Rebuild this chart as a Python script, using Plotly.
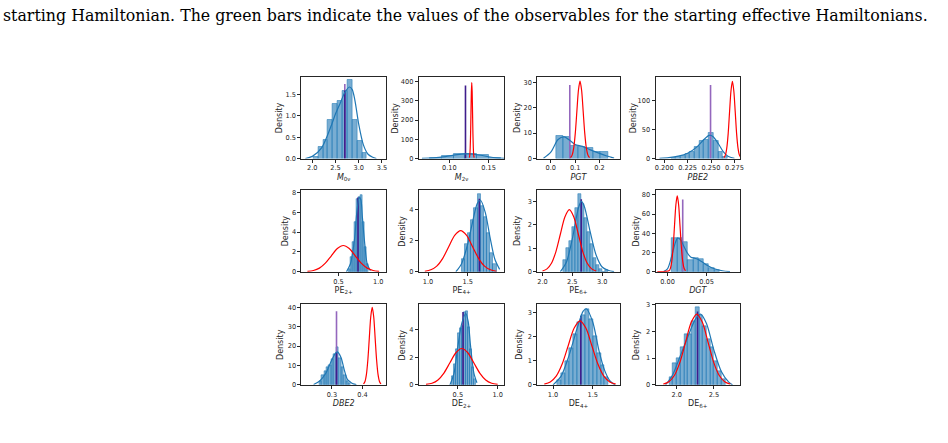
import plotly.graph_objects as go

# ---------------- DATA ----------------
caption = ("starting Hamiltonian. The green bars indicate the values of the observables "
           "for the starting effective Hamiltonians.")

x_titles = ["<i>M</i><sub>0ν</sub>", "<i>M</i><sub>2ν</sub>", "<i>PGT</i>", "<i>PBE2</i>",
            "PE<sub>2+</sub>", "PE<sub>4+</sub>", "PE<sub>6+</sub>", "<i>DGT</i>",
            "<i>DBE2</i>", "DE<sub>2+</sub>", "DE<sub>4+</sub>", "DE<sub>6+</sub>"]
y_title = "Density"

x_tickvals = [[2.0, 2.5, 3.0, 3.5], [0.10, 0.15], [0.0, 0.1, 0.2], [0.200, 0.225, 0.250, 0.275],
              [0.5, 1.0], [1.0, 1.5], [2.0, 2.5, 3.0], [0.00, 0.05],
              [0.3, 0.4], [0.5, 1.0], [1.0, 1.5], [2.0, 2.5]]
x_ticktext = [["2.0", "2.5", "3.0", "3.5"], ["0.10", "0.15"], ["0.0", "0.1", "0.2"],
              ["0.200", "0.225", "0.250", "0.275"], ["0.5", "1.0"], ["1.0", "1.5"],
              ["2.0", "2.5", "3.0"], ["0.00", "0.05"], ["0.3", "0.4"], ["0.5", "1.0"],
              ["1.0", "1.5"], ["2.0", "2.5"]]
y_tickvals = [[0, 0.5, 1.0, 1.5], [0, 100, 200, 300, 400], [0, 10, 20, 30], [0, 50, 100],
              [0, 2, 4, 6, 8], [0, 2, 4], [0, 1, 2, 3], [0, 20, 40, 60, 80],
              [0, 10, 20, 30, 40], [0, 2, 4], [0, 1, 2, 3], [0, 1, 2, 3]]
y_ticktext = [["0.0", "0.5", "1.0", "1.5"], ["0", "100", "200", "300", "400"],
              ["0", "10", "20", "30"], ["0", "50", "100"], ["0", "2", "4", "6", "8"],
              ["0", "2", "4"], ["0", "1", "2", "3"], ["0", "20", "40", "60", "80"],
              ["0", "10", "20", "30", "40"], ["0", "2", "4"], ["0", "1", "2", "3"],
              ["0", "1", "2", "3"]]

# histogram: first bin left edge, bin width, bar heights
hist_start = [2.02, 0.075, 0.02, 0.2075, 0.625, 1.42, 2.35, 0.0055, 0.258, 0.42, 1.05, 1.9]
hist_width = [0.105, 0.015, 0.0305, 0.005, 0.025, 0.04, 0.05, 0.0068, 0.008, 0.025, 0.05, 0.05]
m0v_hist = [0.05, 0.27, 0.45, 0.92, 1.28, 1.35, 1.6, 1.85, 0.92, 0.42, 0.13]
m2v_hist = [3, 12, 22, 25, 18, 5]
pgt_hist = [9.0, 8.6, 5.0, 4.8, 4.3, 2.6, 2.5]
pbe2_hist = [1.5, 3, 5, 8, 12, 20, 30, 32, 45, 30, 12, 3]
pe2_hist = [0.3, 1.5, 3.0, 5.0, 7.4, 7.6, 7.8, 5.0, 2.5, 0.8]
pe4_hist = [0.8, 1.8, 2.5, 3.3, 4.1, 5.0, 4.2, 3.5, 2.5, 1.2, 0.5]
pe6_hist = [0.5, 1.0, 1.3, 1.9, 2.7, 3.3, 2.9, 2.3, 1.7, 1.2, 0.6, 0.3, 0.1, 0.0, 0.08]
dgt_hist = [35, 35, 31, 12.5, 14, 13, 8, 4, 1.5]
dbe2_hist = [2, 5, 7, 9, 10, 13.5, 16, 19.5, 14, 9, 5, 2, 1]
de2_hist = [0.6, 1.5, 2.6, 3.8, 4.1, 4.3, 5.3, 5.4, 4.2, 2.6, 1.3, 0.4]
de4_hist = [0.2, 0.5, 1.0, 1.5, 2.1, 2.6, 2.9, 3.15, 2.7, 2.0, 1.3, 0.8, 0.3]
de6_hist = [0.3, 0.8, 1.0, 1.4, 1.9, 1.9, 2.4, 2.9, 2.6, 2.2, 1.7, 1.4, 0.9, 0.5, 0.2]

# KDE curves
m0v_kde_x = [1.85, 2.0, 2.2, 2.4, 2.5, 2.6, 2.7, 2.8, 2.86, 2.92, 3.0, 3.1, 3.2, 3.3, 3.38]
m0v_kde_y = [0.0, 0.05, 0.25, 0.75, 1.05, 1.3, 1.55, 1.68, 1.62, 1.35, 0.8, 0.32, 0.1, 0.03, 0.0]
m2v_kde_x = [0.065, 0.08, 0.095, 0.11, 0.12, 0.13, 0.14, 0.15, 0.16, 0.17]
m2v_kde_y = [0.5, 3, 10, 20, 24, 23, 17, 9, 3, 0.5]
pgt_kde_x = [-0.03, 0.0, 0.03, 0.055, 0.08, 0.1, 0.13, 0.16, 0.2, 0.23, 0.26]
pgt_kde_y = [0.1, 2.5, 7.5, 8.5, 7.0, 5.5, 4.8, 3.5, 2.0, 1.0, 0.2]
pbe2_kde_x = [0.195, 0.205, 0.215, 0.225, 0.235, 0.242, 0.248, 0.252, 0.258, 0.263, 0.268, 0.275]
pbe2_kde_y = [0.2, 1.5, 4, 9, 20, 32, 40, 38, 25, 12, 4, 0.5]
pe2_kde_x = [0.6, 0.65, 0.7, 0.73, 0.76, 0.78, 0.8, 0.83, 0.86, 0.9]
pe2_kde_y = [0.0, 0.8, 3.2, 6.0, 7.5, 7.3, 5.5, 2.8, 0.8, 0.1]
pe4_kde_x = [1.35, 1.42, 1.5, 1.56, 1.62, 1.66, 1.72, 1.78, 1.84, 1.9]
pe4_kde_y = [0.0, 0.5, 1.8, 3.2, 4.4, 4.6, 3.8, 2.2, 0.8, 0.15]
pe6_kde_x = [2.3, 2.4, 2.5, 2.6, 2.65, 2.7, 2.8, 2.9, 3.0, 3.1, 3.2]
pe6_kde_y = [0.0, 0.4, 1.4, 2.7, 3.0, 2.8, 1.7, 0.7, 0.2, 0.06, 0.0]
dgt_kde_x = [-0.005, 0.0, 0.005, 0.01, 0.013, 0.017, 0.02, 0.025, 0.03, 0.035, 0.04, 0.05, 0.06, 0.07, 0.08]
dgt_kde_y = [0.2, 3, 15, 30, 35, 33, 28, 20, 15, 14, 12.5, 7, 3, 1, 0.1]
dbe2_kde_x = [0.24, 0.26, 0.28, 0.29, 0.3, 0.31, 0.318, 0.33, 0.34, 0.35, 0.36, 0.37, 0.38]
dbe2_kde_y = [0.2, 2, 6, 9.5, 13, 16, 17, 14, 8, 3, 1.5, 0.5, 0.1]
de2_kde_x = [0.4, 0.45, 0.5, 0.55, 0.6, 0.63, 0.66, 0.7, 0.74]
de2_kde_y = [0.0, 0.8, 2.8, 4.5, 5.2, 4.6, 2.8, 0.9, 0.15]
de4_kde_x = [1.0, 1.1, 1.2, 1.3, 1.38, 1.42, 1.5, 1.58, 1.65, 1.72, 1.78]
de4_kde_y = [0.0, 0.35, 1.2, 2.3, 3.05, 3.15, 2.6, 1.4, 0.6, 0.15, 0.0]
de6_kde_x = [1.85, 1.95, 2.05, 2.15, 2.25, 2.32, 2.4, 2.5, 2.6, 2.7, 2.75]
de6_kde_y = [0.0, 0.4, 1.1, 1.8, 2.45, 2.65, 2.3, 1.3, 0.5, 0.1, 0.0]

# red curves; M0v has none in view
m0v_red_x, m0v_red_y = [], []
m2v_red_x = [0.1255, 0.126, 0.1265, 0.127, 0.1275, 0.128, 0.1285, 0.129, 0.1295, 0.130, 0.1305, 0.131, 0.1315]
m2v_red_y = [4.4, 17, 53, 128, 240, 348, 395, 348, 240, 128, 53, 17, 4.4]
pgt_red_x = [0.081, 0.0875, 0.094, 0.1005, 0.107, 0.1135, 0.12, 0.1265, 0.133, 0.1395, 0.146, 0.1525, 0.159]
pgt_red_y = [0.34, 1.34, 4.1, 9.9, 18.5, 26.9, 30.5, 26.9, 18.5, 9.9, 4.1, 1.34, 0.34]
pbe2_red_x = [0.2638, 0.2653, 0.2668, 0.2683, 0.2698, 0.2713, 0.2728, 0.2743, 0.2758, 0.2773, 0.2788, 0.2803, 0.2818]
pbe2_red_y = [1.5, 5.8, 18, 43, 81, 117, 133, 117, 81, 43, 18, 5.8, 1.5]
pe2_red_x = [0.11, 0.185, 0.26, 0.335, 0.41, 0.485, 0.56, 0.635, 0.71, 0.785, 0.86, 0.935, 1.01]
pe2_red_y = [0.03, 0.12, 0.36, 0.86, 1.61, 2.34, 2.65, 2.34, 1.61, 0.86, 0.36, 0.12, 0.03]
pe4_red_x = [0.96, 1.035, 1.11, 1.185, 1.26, 1.335, 1.41, 1.485, 1.56, 1.635, 1.71, 1.785, 1.86]
pe4_red_y = [0.03, 0.12, 0.36, 0.86, 1.61, 2.34, 2.65, 2.34, 1.61, 0.86, 0.36, 0.12, 0.03]
pe6_red_x = [2.0, 2.075, 2.15, 2.225, 2.3, 2.375, 2.45, 2.525, 2.6, 2.675, 2.75, 2.825, 2.9]
pe6_red_y = [0.03, 0.12, 0.36, 0.86, 1.61, 2.34, 2.65, 2.34, 1.61, 0.86, 0.36, 0.12, 0.03]
dgt_red_x = [-0.013, 0.002, 0.00375, 0.0055, 0.00725, 0.009, 0.01075, 0.0125, 0.01425, 0.016, 0.01775, 0.0195, 0.02125, 0.023]
dgt_red_y = [0.0, 0.9, 3.5, 10.7, 25.7, 48, 69.7, 79, 69.7, 48, 25.7, 10.7, 3.5, 0.9]
dbe2_red_x = [0.4035, 0.40825, 0.413, 0.41775, 0.4225, 0.42725, 0.432, 0.43675, 0.4415, 0.44625, 0.451, 0.45575, 0.4605]
dbe2_red_y = [0.44, 1.76, 5.4, 13, 24.3, 35.3, 40, 35.3, 24.3, 13, 5.4, 1.76, 0.44]
de2_red_x = [0.1, 0.175, 0.25, 0.325, 0.4, 0.475, 0.55, 0.625, 0.7, 0.775, 0.85, 0.925, 1.0]
de2_red_y = [0.03, 0.12, 0.36, 0.86, 1.61, 2.34, 2.65, 2.34, 1.61, 0.86, 0.36, 0.12, 0.03]
de4_red_x = [0.89, 0.965, 1.04, 1.115, 1.19, 1.265, 1.34, 1.415, 1.49, 1.565, 1.64, 1.715, 1.79]
de4_red_y = [0.03, 0.12, 0.36, 0.86, 1.61, 2.34, 2.65, 2.34, 1.61, 0.86, 0.36, 0.12, 0.03]
de6_red_x = [1.82, 1.895, 1.97, 2.045, 2.12, 2.195, 2.27, 2.345, 2.42, 2.495, 2.57, 2.645, 2.72]
de6_red_y = [0.03, 0.12, 0.36, 0.86, 1.61, 2.34, 2.65, 2.34, 1.61, 0.86, 0.36, 0.12, 0.03]

# starting-Hamiltonian reference values (bar position, bar height)
ref_x = [2.70, 0.1205, 0.078, 0.2495, 0.745, 1.645, 2.65, 0.0195, 0.315, 0.565, 1.35, 2.28]
ref_h = [1.75, 380, 29, 127, 7.5, 4.7, 3.1, 75, 38, 5.3, 2.85, 2.75]
ref_inner_h = [1.6, None, None, None, None, None, None, None, 17, None, None, None]

# ---------------- STYLE / LAYOUT ----------------
hists = [m0v_hist, m2v_hist, pgt_hist, pbe2_hist, pe2_hist, pe4_hist, pe6_hist,
         dgt_hist, dbe2_hist, de2_hist, de4_hist, de6_hist]
kdes = [(m0v_kde_x, m0v_kde_y), (m2v_kde_x, m2v_kde_y), (pgt_kde_x, pgt_kde_y),
        (pbe2_kde_x, pbe2_kde_y), (pe2_kde_x, pe2_kde_y), (pe4_kde_x, pe4_kde_y),
        (pe6_kde_x, pe6_kde_y), (dgt_kde_x, dgt_kde_y), (dbe2_kde_x, dbe2_kde_y),
        (de2_kde_x, de2_kde_y), (de4_kde_x, de4_kde_y), (de6_kde_x, de6_kde_y)]
reds = [(m0v_red_x, m0v_red_y), (m2v_red_x, m2v_red_y), (pgt_red_x, pgt_red_y),
        (pbe2_red_x, pbe2_red_y), (pe2_red_x, pe2_red_y), (pe4_red_x, pe4_red_y),
        (pe6_red_x, pe6_red_y), (dgt_red_x, dgt_red_y), (dbe2_red_x, dbe2_red_y),
        (de2_red_x, de2_red_y), (de4_red_x, de4_red_y), (de6_red_x, de6_red_y)]

x_ranges = [[1.765, 3.586], [0.061, 0.170], [-0.056, 0.283], [0.1908, 0.281],
            [0.034, 1.096], [0.884, 1.959], [1.91, 3.295], [-0.0153, 0.0929],
            [0.20, 0.477], [0.009, 1.084], [0.80, 1.84], [1.715, 2.852]]
y_ranges = [[0, 1.92], [0, 425], [0, 32.2], [0, 141], [0, 8.27], [0, 5.26], [0, 3.49],
            [0, 85], [0, 41.7], [0, 5.88], [0, 3.34], [0, 3.02]]
ytitle_offset_px = [22, 23, 20, 22, 16, 16, 19, 19, 21, 16, 18, 19]

W, H = 948, 443
col_px = [(302, 387), (420, 506), (539, 622), (658, 743)]
row_px = [(75, 158), (190, 273), (306, 388)]
light_purple = "#9467bd"
dark_purple = "#3f1d8c"
ref_colors = [light_purple, dark_purple, light_purple, light_purple, dark_purple, dark_purple,
              dark_purple, light_purple, light_purple, dark_purple, dark_purple, dark_purple]
axis_col = "#262626"
tick_font = dict(family="DejaVu Sans", size=6.6, color=axis_col)
title_font = dict(family="DejaVu Sans", size=8, color=axis_col)

fig = go.Figure()
layout = {}
annotations = [dict(text=caption, xref="paper", yref="paper", x=0, y=1 - 13 / H,
                    xanchor="left", yanchor="middle", showarrow=False,
                    font=dict(family="DejaVu Serif", size=15.8, color="black"))]
for i in range(12):
    r, c = divmod(i, 4)
    n = "" if i == 0 else str(i + 1)
    xa, ya = "x" + n, "y" + n
    # histogram bars
    w = hist_width[i]
    centers = [hist_start[i] + w * (k + 0.5) for k in range(len(hists[i]))]
    fig.add_trace(go.Bar(x=centers, y=hists[i], width=w, xaxis=xa, yaxis=ya,
                         marker=dict(color="rgba(31,119,180,0.6)",
                                     line=dict(color="rgba(31,119,180,0.9)", width=0.6)),
                         showlegend=False, hoverinfo="skip"))
    # reference bar
    fig.add_trace(go.Scatter(x=[ref_x[i], ref_x[i]], y=[0, ref_h[i]], mode="lines",
                             line=dict(color=ref_colors[i], width=1.6),
                             xaxis=xa, yaxis=ya, showlegend=False, hoverinfo="skip"))
    if ref_inner_h[i] is not None:
        fig.add_trace(go.Scatter(x=[ref_x[i], ref_x[i]], y=[0, ref_inner_h[i]], mode="lines",
                                 line=dict(color=dark_purple, width=1.6),
                                 xaxis=xa, yaxis=ya, showlegend=False, hoverinfo="skip"))
    # KDE
    kx, ky = kdes[i]
    fig.add_trace(go.Scatter(x=kx, y=ky, mode="lines", line=dict(color="#1f77b4", width=1.2,
                             shape="spline", smoothing=0.8),
                             xaxis=xa, yaxis=ya, showlegend=False, hoverinfo="skip"))
    # red curve
    rx, ry = reds[i]
    if rx:
        fig.add_trace(go.Scatter(x=rx, y=ry, mode="lines", line=dict(color="red", width=1.2,
                                 shape="spline", smoothing=0.8),
                                 xaxis=xa, yaxis=ya, showlegend=False, hoverinfo="skip"))
    x0, x1 = col_px[c]
    y0, y1 = row_px[r]
    common = dict(showline=True, mirror=True, linecolor=axis_col, linewidth=1,
                  ticks="outside", ticklen=3, tickwidth=0.8, tickcolor=axis_col,
                  showgrid=False, zeroline=False, tickfont=tick_font, tickangle=0)
    layout["xaxis" + n] = dict(common, domain=[x0 / W, x1 / W], range=x_ranges[i],
                               anchor=ya, tickmode="array", tickvals=x_tickvals[i],
                               ticktext=x_ticktext[i],
                               title=dict(text=x_titles[i], standoff=2, font=title_font))
    layout["yaxis" + n] = dict(common, domain=[1 - y1 / H, 1 - y0 / H], range=y_ranges[i],
                               anchor=xa, tickmode="array", tickvals=y_tickvals[i],
                               ticktext=y_ticktext[i])
    annotations.append(dict(text=y_title, xref="paper", yref="paper",
                            x=(x0 - ytitle_offset_px[i]) / W, y=1 - (y0 + y1) / 2 / H,
                            xanchor="center", yanchor="middle", textangle=-90,
                            showarrow=False, font=title_font))

fig.update_layout(**layout)
fig.update_layout(width=W, height=H, margin=dict(l=0, r=0, t=0, b=0),
                  paper_bgcolor="white", plot_bgcolor="white", barmode="overlay",
                  bargap=0, showlegend=False, annotations=annotations)
fig.write_html("out.html")
